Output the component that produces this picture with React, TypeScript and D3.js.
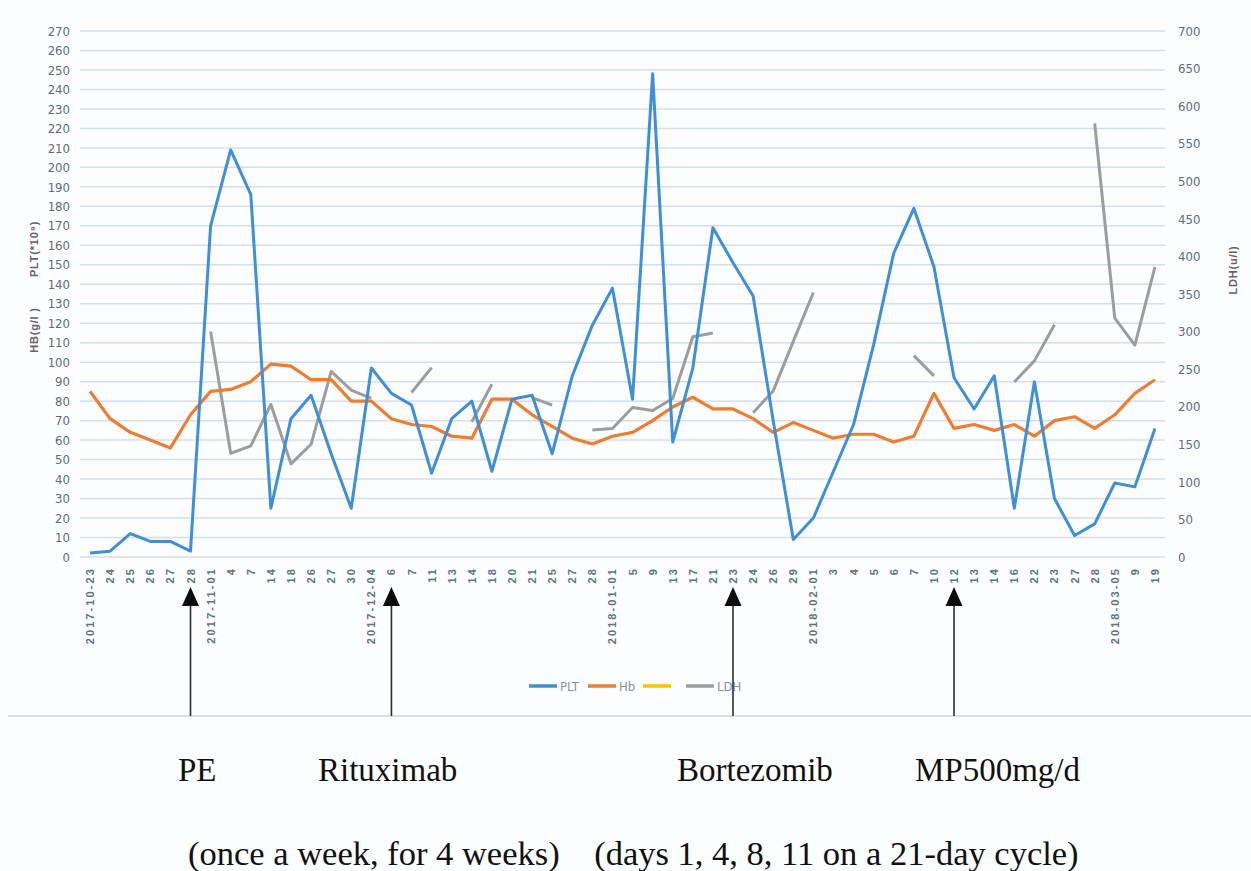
import { useEffect, useRef } from 'react';
import * as d3 from 'd3';

const dates = [
  '2017-10-23', '2017-10-24', '2017-10-25', '2017-10-26', '2017-10-27', '2017-10-28',
  '2017-11-01', '2017-11-04', '2017-11-07', '2017-11-14', '2017-11-18', '2017-11-26', '2017-11-27', '2017-11-30',
  '2017-12-04', '2017-12-06', '2017-12-07', '2017-12-11', '2017-12-13', '2017-12-14', '2017-12-18', '2017-12-20',
  '2017-12-21', '2017-12-25', '2017-12-27', '2017-12-28',
  '2018-01-01', '2018-01-05', '2018-01-09', '2018-01-13', '2018-01-17', '2018-01-21', '2018-01-23', '2018-01-24',
  '2018-01-26', '2018-01-29',
  '2018-02-01', '2018-02-03', '2018-02-04', '2018-02-05', '2018-02-06', '2018-02-07', '2018-02-10', '2018-02-12',
  '2018-02-13', '2018-02-14', '2018-02-16', '2018-02-22', '2018-02-23', '2018-02-27', '2018-02-28',
  '2018-03-05', '2018-03-09', '2018-03-19',
];

const plt = [
  2, 3, 12, 8, 8, 3,
  170, 209, 186, 25, 71, 83, 53, 25,
  97, 84, 78, 43, 71, 80, 44, 81, 83, 53, 93, 119,
  138, 81, 248, 59, 97, 169, 151, 134, 70, 9,
  20, 44, 68, 109, 156, 179, 149, 92, 76, 93, 25, 90, 30, 11, 17,
  38, 36, 66,
];

const hb = [
  85, 71, 64, 60, 56, 73,
  85, 86, 90, 99, 98, 91, 91, 80,
  80, 71, 68, 67, 62, 61, 81, 81, 73, 67, 61, 58,
  62, 64, 70, 77, 82, 76, 76, 71, 64, 69,
  65, 61, 63, 63, 59, 62, 84, 66, 68, 65, 68, 62, 70, 72, 66,
  73, 84, 91,
];

const ldh: (number | null)[] = [
  null, null, null, null, null, null,
  300, 138, 148, 203, 124, 150, 247, 222,
  211, null, 219, 252, null, 180, 230, null, 212, 202, null, 169,
  171, 199, 195, 211, 293, 298, null, 192, 221, 287,
  352, null, null, null, null, 268, 241, null, null, null, 233, 261, 309, null, 577,
  318, 282, 386,
];

const leftTicks = d3.range(0, 271, 10);
const rightTicks = d3.range(0, 701, 50);

const legendItems = [
  { name: 'PLT', color: '#3f8fd8' },
  { name: 'Hb', color: '#ed7d31' },
  { name: '', color: '#ffc000' },
  { name: 'LDH', color: '#9d9d9d' },
];

const treatments = [
  { date: '2017-10-28', label: 'PE' },
  { date: '2017-12-06', label: 'Rituximab' },
  { date: '2018-01-23', label: 'Bortezomib' },
  { date: '2018-02-12', label: 'MP500mg/d' },
];

const W = 1251;
const H = 871;

function tickLabel(d: string, i: number) {
  const prev = i > 0 ? dates[i - 1] : null;
  if (!prev || prev.slice(0, 7) !== d.slice(0, 7)) return d;
  return String(+d.slice(8));
}

export default function App() {
  const svgRef = useRef<SVGSVGElement>(null);

  useEffect(() => {
    if (!svgRef.current) return;
    const svg = d3.select(svgRef.current);
    svg.selectAll('*').remove();

    const left = 80, right = 1165, top = 31, bottom = 557;
    const narrow = '"Liberation Sans Narrow", "DejaVu Sans Condensed", "Arial Narrow", sans-serif';
    const serif = '"Liberation Serif", "Times New Roman", serif';

    svg.append('rect').attr('width', W).attr('height', H).attr('fill', '#fcfdff');

    const x = d3.scalePoint<string>().domain(dates).range([left, right]).padding(0.5);
    const yL = d3.scaleLinear().domain([0, 270]).range([bottom, top]);
    const yR = d3.scaleLinear().domain([0, 700]).range([bottom, top]);

    // gridlines
    svg.append('g')
      .selectAll('line')
      .data(leftTicks)
      .join('line')
      .attr('x1', left)
      .attr('x2', right)
      .attr('y1', d => yL(d))
      .attr('y2', d => yL(d))
      .attr('stroke', '#d6dee6')
      .attr('stroke-width', 1.5);

    // left axis labels
    const axL = svg.append('g')
      .attr('transform', `translate(${left - 10},0)`)
      .call(d3.axisLeft(yL).tickValues(leftTicks).tickSize(0).tickPadding(0));
    axL.select('.domain').remove();
    axL.selectAll('text')
      .attr('font-family', narrow)
      .attr('font-size', 13)
      .attr('fill', '#5f6b78');

    // right axis labels
    const axR = svg.append('g')
      .attr('transform', `translate(${right + 13},0)`)
      .call(d3.axisRight(yR).tickValues(rightTicks).tickSize(0).tickPadding(0));
    axR.select('.domain').remove();
    axR.selectAll('text')
      .attr('font-family', narrow)
      .attr('font-size', 13)
      .attr('fill', '#5f6b78');

    // x labels
    svg.append('g')
      .selectAll('text')
      .data(dates)
      .join('text')
      .attr('transform', d => `translate(${x(d)},567) rotate(-90)`)
      .attr('text-anchor', 'end')
      .attr('dominant-baseline', 'central')
      .attr('font-family', '"Liberation Sans", Arial, sans-serif')
      .attr('font-size', 11)
      .attr('font-weight', 'bold')
      .attr('letter-spacing', 2.1)
      .attr('fill', '#62717f')
      .text((d, i) => tickLabel(d, i));

    // axis titles
    const titleColor = '#6b6363';
    const titles = [
      { text: 'PLT(*10⁹)', tx: 38, ty: 249 },
      { text: 'HB(g/l )', tx: 38, ty: 330 },
      { text: 'LDH(u/l)', tx: 1237, ty: 270 },
    ];
    titles.forEach(t => {
      svg.append('text')
        .attr('transform', `translate(${t.tx},${t.ty}) rotate(-90)`)
        .attr('text-anchor', 'middle')
        .attr('font-family', '"Liberation Sans", Arial, sans-serif')
        .attr('font-size', 11)
        .attr('font-weight', 'bold')
        .attr('letter-spacing', 0.8)
        .attr('fill', titleColor)
        .style('white-space', 'pre')
        .text(t.text);
    });

    // series lines
    const lineL = d3.line<number>()
      .x((_, i) => x(dates[i]) as number)
      .y(d => yL(d));
    const lineR = d3.line<number | null>()
      .defined(d => d != null)
      .x((_, i) => x(dates[i]) as number)
      .y(d => yR(d as number));

    svg.append('path')
      .datum(ldh)
      .attr('d', lineR)
      .attr('fill', 'none')
      .attr('stroke', legendItems[3].color)
      .attr('stroke-width', 3)
      .attr('stroke-linejoin', 'round');
    svg.append('path')
      .datum(hb)
      .attr('d', lineL)
      .attr('fill', 'none')
      .attr('stroke', legendItems[1].color)
      .attr('stroke-width', 3.2)
      .attr('stroke-linejoin', 'round');
    svg.append('path')
      .datum(plt)
      .attr('d', lineL)
      .attr('fill', 'none')
      .attr('stroke', legendItems[0].color)
      .attr('stroke-width', 3)
      .attr('stroke-linejoin', 'round');

    // legend
    const legendX = [529, 588, 643, 686];
    const lg = svg.append('g');
    legendItems.forEach((item, i) => {
      lg.append('line')
        .attr('x1', legendX[i])
        .attr('x2', legendX[i] + 28)
        .attr('y1', 686)
        .attr('y2', 686)
        .attr('stroke', item.color)
        .attr('stroke-width', 3.5);
      if (item.name) {
        lg.append('text')
          .attr('x', legendX[i] + 31)
          .attr('y', 686)
          .attr('dominant-baseline', 'central')
          .attr('font-family', narrow)
          .attr('font-size', 13)
          .attr('fill', '#8b9097')
          .text(item.name);
      }
    });

    // separator
    svg.append('line')
      .attr('x1', 8)
      .attr('x2', W)
      .attr('y1', 716)
      .attr('y2', 716)
      .attr('stroke', '#cfd5db')
      .attr('stroke-width', 1.5);

    // treatment arrows
    const arrows = svg.append('g');
    treatments.forEach(t => {
      const ax = x(t.date) as number;
      arrows.append('line')
        .attr('x1', ax)
        .attr('x2', ax)
        .attr('y1', 600)
        .attr('y2', 716)
        .attr('stroke', '#2a2e33')
        .attr('stroke-width', 1.6);
      arrows.append('path')
        .attr('d', `M${ax},587 L${ax - 8.5},606 L${ax + 8.5},606 Z`)
        .attr('fill', '#0d0d0d');
    });

    // treatment labels
    const labelX = [178, 318, 677, 915];
    treatments.forEach((t, i) => {
      svg.append('text')
        .attr('x', labelX[i])
        .attr('y', 781)
        .attr('font-family', serif)
        .attr('font-size', 33)
        .attr('fill', '#111')
        .text(t.label);
    });

    svg.append('text')
      .attr('x', 188)
      .attr('y', 865)
      .attr('font-family', serif)
      .attr('font-size', 34.5)
      .attr('fill', '#111')
      .style('white-space', 'pre')
      .text('(once a week, for 4 weeks)    (days 1, 4, 8, 11 on a 21-day cycle)');
  }, []);

  return (
    <svg
      ref={svgRef}
      width={W}
      height={H}
      style={{ position: 'absolute', left: 0, top: 0, display: 'block' }}
    />
  );
}
